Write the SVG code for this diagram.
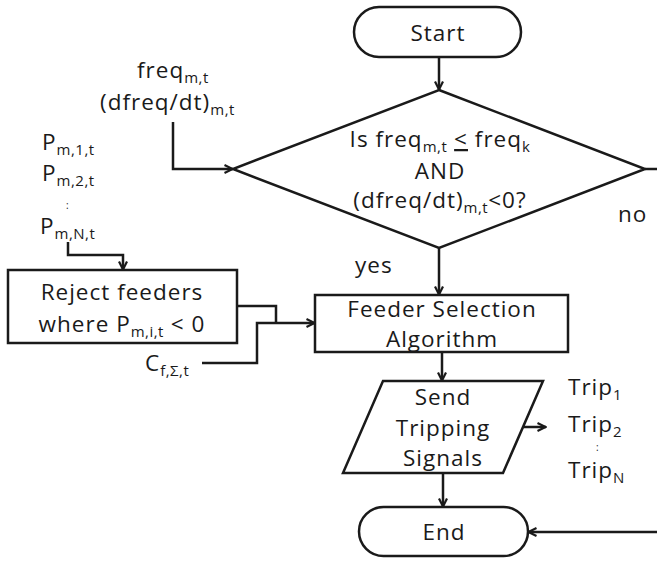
<svg xmlns="http://www.w3.org/2000/svg" width="657" height="561" viewBox="0 0 657 561">
<style>
.s{fill:#fff;stroke:#1a1a1a;stroke-width:2.5}
.c{fill:none;stroke:#1a1a1a;stroke-width:2.5}
text{font-family:"Open Sans","DejaVu Sans",sans-serif;font-size:22.5px;fill:#1a1a1a;letter-spacing:1px}
.m{text-anchor:middle}
.sub{font-size:15px;letter-spacing:0.5px}
.dot{font-size:10px}
</style>
<defs>
<marker id="a" viewBox="0 0 10 10" refX="9.5" refY="5" markerWidth="10" markerHeight="10" markerUnits="userSpaceOnUse" orient="auto">
<path d="M1,1 L9,5 L1,9" fill="none" stroke="#1a1a1a" stroke-width="2.2"/>
</marker>
</defs>
<rect width="657" height="561" fill="#fff"/>
<g id="connectors">
<path class="c" d="M439,57 V90" marker-end="url(#a)"/>
<path class="c" d="M173,122 V169 H233" marker-end="url(#a)"/>
<path class="c" d="M68,242 V255 H123 V270" marker-end="url(#a)"/>
<path class="c" d="M439,248 V295" marker-end="url(#a)"/>
<path class="c" d="M237,306 H276 V323"/>
<path class="c" d="M202,363 H257 V323 H315" marker-end="url(#a)"/>
<path class="c" d="M442,352 V381" marker-end="url(#a)"/>
<path class="c" d="M523,427 H546" marker-end="url(#a)"/>
<path class="c" d="M443,473 V507" marker-end="url(#a)"/>
<path class="c" d="M645,169 H657"/>
<path class="c" d="M657,532 H528" marker-end="url(#a)"/>
</g>
<g id="start">
<rect class="s" x="354" y="7" width="167" height="50" rx="25"/>
<text class="m" x="438" y="41">Start</text>
</g>
<g id="decision">
<polygon class="s" points="439,90 645,169 439,248 233,169"/>
<text class="m" x="440" y="147">Is freq<tspan class="sub" dy="5">m,t</tspan><tspan dy="-5"> </tspan><tspan text-decoration="underline">&lt;</tspan> freq<tspan class="sub" dy="5">k</tspan></text>
<text class="m" x="440" y="179">AND</text>
<text class="m" x="440" y="208">(dfreq/dt)<tspan class="sub" dy="5">m,t</tspan><tspan dy="-5">&lt;0?</tspan></text>
</g>
<g id="freq-input">
<text x="137" y="78">freq<tspan class="sub" dy="5">m,t</tspan></text>
<text x="100" y="110">(dfreq/dt)<tspan class="sub" dy="5">m,t</tspan></text>
</g>
<g id="p-input">
<text x="42" y="150">P<tspan class="sub" dy="5">m,1,t</tspan></text>
<text x="42" y="181">P<tspan class="sub" dy="5">m,2,t</tspan></text>
<text class="dot" x="66" y="209">:</text>
<text x="40" y="234">P<tspan class="sub" dy="5">m,N,t</tspan></text>
</g>
<g id="reject">
<rect class="s" x="8" y="270" width="229" height="73"/>
<text class="m" x="122" y="300">Reject feeders</text>
<text class="m" x="122" y="332">where P<tspan class="sub" dy="5">m,i,t</tspan><tspan dy="-5"> &lt; 0</tspan></text>
</g>
<g id="c-input">
<text x="145" y="371">C<tspan class="sub" dy="5">f,Σ,t</tspan></text>
</g>
<g id="feeder">
<rect class="s" x="315" y="295" width="253" height="57"/>
<text class="m" x="442" y="317">Feeder Selection</text>
<text class="m" x="442" y="347">Algorithm</text>
</g>
<g id="send">
<polygon class="s" points="383,381 543,381 503,473 343,473"/>
<text class="m" x="443" y="405">Send</text>
<text class="m" x="443" y="436">Tripping</text>
<text class="m" x="443" y="466">Signals</text>
</g>
<g id="trips">
<text x="568" y="395">Trip<tspan class="sub" dy="5">1</tspan></text>
<text x="568" y="432">Trip<tspan class="sub" dy="5">2</tspan></text>
<text class="dot" x="596" y="451">:</text>
<text x="568" y="478">Trip<tspan class="sub" dy="5">N</tspan></text>
</g>
<g id="end">
<rect class="s" x="359" y="507" width="169" height="49" rx="24.5"/>
<text class="m" x="444" y="540">End</text>
</g>
<g id="labels">
<text x="355" y="273">yes</text>
<text x="618" y="222">no</text>
</g>
</svg>
